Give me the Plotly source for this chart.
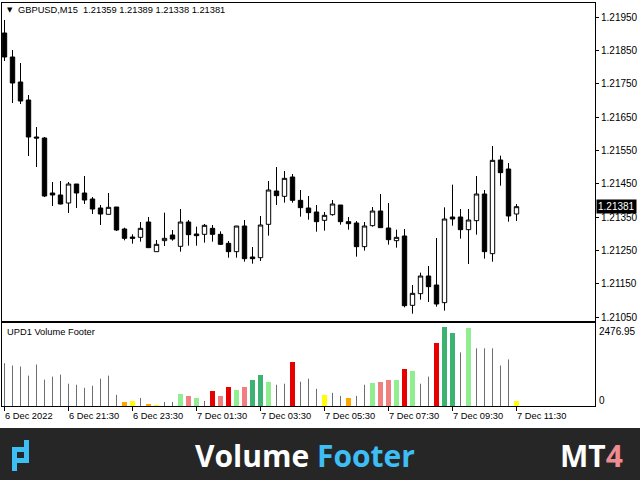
import plotly.graph_objects as go

# ---------------- data ----------------
time_labels = ["6 Dec 2022", "6 Dec 21:30", "6 Dec 23:30", "7 Dec 01:30", "7 Dec 03:30",
               "7 Dec 05:30", "7 Dec 07:30", "7 Dec 09:30", "7 Dec 11:30"]
time_label_idx = [0, 8, 16, 24, 32, 40, 48, 56, 64]

opens = [1.21902, 1.21830, 1.21755, 1.21701, 1.21590, 1.21587, 1.21422, 1.21416, 1.21392, 1.21449,
         1.21422, 1.21404, 1.21377, 1.21358, 1.21380, 1.21314, 1.21290, 1.21289, 1.21335, 1.21246,
         1.21279, 1.21296, 1.21262, 1.21335, 1.21299, 1.21298, 1.21316, 1.21298, 1.21271, 1.21246,
         1.21323, 1.21230, 1.21228, 1.21328, 1.21428, 1.21412, 1.21470, 1.21400, 1.21377, 1.21365,
         1.21340, 1.21357, 1.21386, 1.21336, 1.21332, 1.21261, 1.21324, 1.21368, 1.21317, 1.21279,
         1.21293, 1.21085, 1.21120, 1.21173, 1.21146, 1.21093, 1.21350, 1.21350, 1.21312, 1.21339,
         1.21419, 1.21240, 1.21521, 1.21494, 1.21359]
highs = [1.21941, 1.21851, 1.21812, 1.21716, 1.21620, 1.21590, 1.21455, 1.21458, 1.21455, 1.21449,
         1.21473, 1.21410, 1.21386, 1.21422, 1.21380, 1.21318, 1.21298, 1.21335, 1.21350, 1.21281,
         1.21363, 1.21311, 1.21374, 1.21341, 1.21321, 1.21329, 1.21326, 1.21307, 1.21278, 1.21323,
         1.21341, 1.21260, 1.21353, 1.21458, 1.21500, 1.21488, 1.21479, 1.21431, 1.21413, 1.21386,
         1.21365, 1.21401, 1.21386, 1.21350, 1.21338, 1.21335, 1.21380, 1.21419, 1.21392, 1.21312,
         1.21314, 1.21146, 1.21183, 1.21203, 1.21287, 1.21379, 1.21447, 1.21374, 1.21374, 1.21473,
         1.21431, 1.21563, 1.21534, 1.21512, 1.21389]
lows = [1.21818, 1.21692, 1.21689, 1.21533, 1.21500, 1.21410, 1.21383, 1.21388, 1.21362, 1.21377,
        1.21389, 1.21359, 1.21326, 1.21358, 1.21308, 1.21280, 1.21270, 1.21276, 1.21258, 1.21246,
        1.21263, 1.21279, 1.21246, 1.21264, 1.21264, 1.21273, 1.21276, 1.21266, 1.21228, 1.21228,
        1.21216, 1.21210, 1.21218, 1.21294, 1.21386, 1.21393, 1.21393, 1.21351, 1.21342, 1.21306,
        1.21309, 1.21354, 1.21327, 1.21312, 1.21231, 1.21249, 1.21321, 1.21318, 1.21267, 1.21258,
        1.21079, 1.21060, 1.21102, 1.21095, 1.21081, 1.21069, 1.21324, 1.21285, 1.21209, 1.21297,
        1.21225, 1.21216, 1.21444, 1.21336, 1.21338]
closes = [1.21830, 1.21752, 1.21698, 1.21590, 1.21587, 1.21413, 1.21416, 1.21389, 1.21449, 1.21422,
          1.21401, 1.21374, 1.21359, 1.21379, 1.21311, 1.21286, 1.21286, 1.21316, 1.21258, 1.21268,
          1.21286, 1.21284, 1.21335, 1.21297, 1.21294, 1.21325, 1.21298, 1.21268, 1.21246, 1.21323,
          1.21225, 1.21225, 1.21326, 1.21431, 1.21414, 1.21466, 1.21400, 1.21378, 1.21363, 1.21336,
          1.21355, 1.21389, 1.21336, 1.21330, 1.21261, 1.21323, 1.21368, 1.21318, 1.21282, 1.21289,
          1.21084, 1.21121, 1.21173, 1.21141, 1.21089, 1.21344, 1.21344, 1.21312, 1.21341, 1.21419,
          1.21246, 1.21520, 1.21483, 1.21353, 1.21381]

volumes = [1343, 1270, 1239, 953, 1302, 826, 921, 985, 699, 667,
           572, 635, 858, 953, 349, 127, 159, 254, 32, 22,
           127, 127, 381, 318, 254, 159, 476, 318, 603, 508,
           603, 826, 985, 762, 667, 699, 1366, 762, 858, 540,
           349, 413, 318, 254, 318, 667, 730, 762, 826, 826,
           1175, 1112, 699, 921, 1969, 2476.95, 2287, 1683, 2445, 1810,
           1810, 1810, 1270, 1461, 159]
# volume class: g=plain, o=orange, y=yellow, lg=light green, lc=light coral, r=red, sg=sea green
vol_class = ["g"] * 15 + ["o", "y", "g", "o", "y", "g", "g", "lg", "lc", "lg", "g", "r", "lc", "r", "lg",
             "lc", "sg", "sg", "lg", "g", "g", "r", "g", "g", "g", "y", "g", "g", "o", "g",
             "g", "lg", "lc", "lc", "lg", "r", "lg", "g", "g", "r", "sg", "sg", "g", "lg", "g",
             "g", "g", "g", "g", "y"]

price_ticks = [1.21050, 1.21150, 1.21250, 1.21350, 1.21450, 1.21550, 1.21650, 1.21750, 1.21850, 1.21950]
symbol_text = "GBPUSD,M15"
vol_max_label = "2476.95"

# ---------------- styles ----------------
W, H = 640, 480
CLASS_COLORS = {"o": "#FFA500", "y": "#FFFF00", "lg": "#90EE90", "lc": "#F08080",
                "r": "#E60000", "sg": "#3CB371"}
FONT = "Liberation Sans"


def px_x(p):
    return p / W


def px_y(p):
    return 1 - p / H


n = len(opens)
idx = list(range(n))
xr = [-0.25 - 0.0625, 73.875 - 0.0625]

fig = go.Figure()

fig.add_trace(go.Candlestick(
    x=idx, open=opens, high=highs, low=lows, close=closes,
    increasing=dict(fillcolor="white", line=dict(color="black", width=1)),
    decreasing=dict(fillcolor="black", line=dict(color="black", width=1)),
    whiskerwidth=0, xaxis="x", yaxis="y", hoverinfo="skip", showlegend=False))

# thin volume lines
gx, gy = [], []
for i, (v, c) in enumerate(zip(volumes, vol_class)):
    if c == "g":
        gx += [i, i, None]
        gy += [0, v, None]
fig.add_trace(go.Scatter(x=gx, y=gy, mode="lines", line=dict(color="#6E6E6E", width=1),
                         xaxis="x2", yaxis="y2", hoverinfo="skip", showlegend=False))

# coloured volume bars
bx = [i for i, c in enumerate(vol_class) if c != "g"]
fig.add_trace(go.Bar(x=bx, y=[volumes[i] for i in bx],
                     marker=dict(color=[CLASS_COLORS[vol_class[i]] for i in bx], line=dict(width=0)),
                     width=0.6, xaxis="x2", yaxis="y2", hoverinfo="skip", showlegend=False))

axis_common = dict(showgrid=False, zeroline=False, showline=True, mirror=True,
                   linecolor="black", linewidth=1)

fig.update_layout(
    width=W, height=H, margin=dict(l=0, r=0, t=0, b=0, autoexpand=False),
    paper_bgcolor="white", plot_bgcolor="white",
    boxgap=0.45, boxgroupgap=0,
    bargap=0,
    xaxis=dict(domain=[px_x(2), px_x(595)], range=xr, anchor="y", showticklabels=False,
               rangeslider=dict(visible=False), ticks="", automargin=False, **axis_common),
    yaxis=dict(domain=[px_y(321), px_y(3)], range=[1.21038, 1.21992], side="right", anchor="x",
               tickvals=price_ticks, ticktext=["%.5f" % p for p in price_ticks],
               ticks="outside", ticklen=3, tickcolor="black", automargin=False,
               tickfont=dict(family=FONT, size=10, color="black"), **axis_common),
    xaxis2=dict(domain=[px_x(2), px_x(595)], range=xr, anchor="y2", showticklabels=False,
                tickvals=time_label_idx, ticks="outside", ticklen=4, tickcolor="black",
                automargin=False, **axis_common),
    yaxis2=dict(domain=[px_y(406), px_y(323)], range=[0, 2604], side="right", anchor="x2",
                showticklabels=False, ticks="", automargin=False, **axis_common),
)

ann = []
# time labels
for i, t in zip(time_label_idx, time_labels):
    ann.append(dict(x=i, xref="x2", y=px_y(416), yref="paper", text=t, showarrow=False,
                    xanchor="left", yanchor="middle", xshift=-2,
                    font=dict(family=FONT, size=9.3, color="black")))
# header
ann.append(dict(x=px_x(5), y=px_y(10), xref="paper", yref="paper", text="▼", showarrow=False,
                xanchor="left", yanchor="middle", font=dict(family="DejaVu Sans", size=7, color="black")))
ohlc_txt = "%.5f %.5f %.5f %.5f" % (opens[-1], highs[-1], lows[-1], closes[-1])
ann.append(dict(x=px_x(16), y=px_y(10), xref="paper", yref="paper",
                text=symbol_text + "\u00a0\u00a0" + ohlc_txt, showarrow=False,
                xanchor="left", yanchor="middle", font=dict(family=FONT, size=9.3, color="black")))
# indicator name
ann.append(dict(x=px_x(5), y=px_y(332), xref="paper", yref="paper", text="UPD1 Volume Footer",
                showarrow=False, xanchor="left", yanchor="middle",
                font=dict(family=FONT, size=9.3, color="black")))
# volume scale labels
ann.append(dict(x=px_x(597), y=px_y(331), xref="paper", yref="paper", text=vol_max_label,
                showarrow=False, xanchor="left", yanchor="middle",
                font=dict(family=FONT, size=10, color="black")))
ann.append(dict(x=px_x(597), y=px_y(400), xref="paper", yref="paper", text="0",
                showarrow=False, xanchor="left", yanchor="middle",
                font=dict(family=FONT, size=10, color="black")))
# current price box
ann.append(dict(x=px_x(596), y=closes[-1], xref="paper", yref="y", text="%.5f" % closes[-1],
                showarrow=False, xanchor="left", yanchor="middle", bgcolor="black",
                borderpad=1, font=dict(family=FONT, size=10, color="white")))
# banner texts
ann.append(dict(x=px_x(305), y=px_y(455), xref="paper", yref="paper",
                text="Volume <span style='color:#3DBEF5'>Footer</span>", showarrow=False,
                xanchor="center", yanchor="middle",
                font=dict(family="Open Sans", size=30, color="white", weight=700)))
ann.append(dict(x=px_x(625), y=px_y(455), xref="paper", yref="paper",
                text="MT<span style='color:#EF8C92'>4</span>", showarrow=False,
                xanchor="right", yanchor="middle",
                font=dict(family="Open Sans", size=30, color="white", weight=700)))
fig.update_layout(annotations=ann)

# banner background and logo
shapes = [dict(type="rect", xref="paper", yref="paper", x0=0, x1=1, y0=0, y1=px_y(428),
               fillcolor="#262626", line=dict(width=0), layer="below")]
cyan = "#3DBEF5"
for (x0, y0, x1, y1) in [(12, 447, 17, 471), (12, 447, 29, 452), (12, 458, 29, 463), (24, 440, 29, 463)]:
    shapes.append(dict(type="rect", xref="paper", yref="paper", x0=px_x(x0), x1=px_x(x1),
                       y0=px_y(y1), y1=px_y(y0), fillcolor=cyan, line=dict(width=0)))
fig.update_layout(shapes=shapes)

fig.write_html("out.html", config={"displayModeBar": False},
               post_script="document.body.style.margin='0';document.body.style.overflow='hidden';")
